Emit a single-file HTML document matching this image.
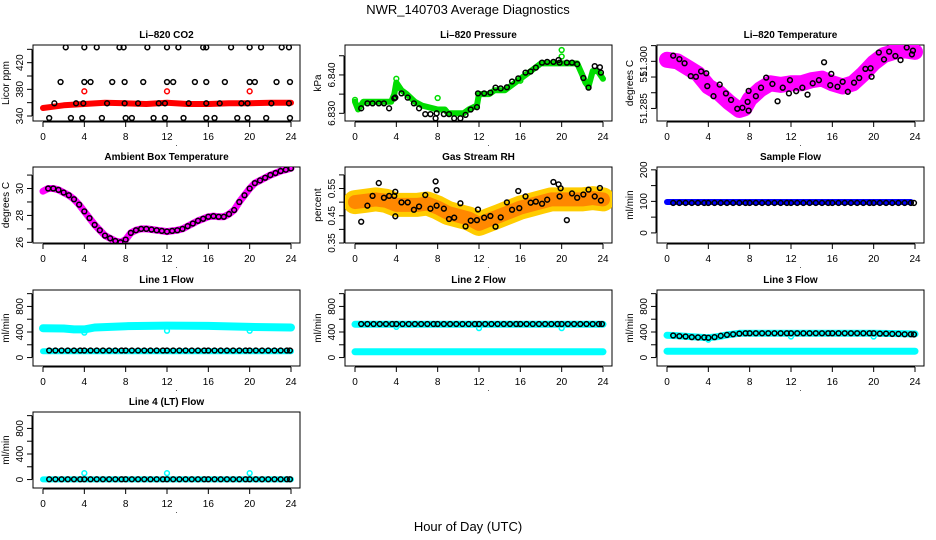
<!DOCTYPE html>
<html><head><meta charset="utf-8">
<style>
html,body{margin:0;padding:0;background:#fff;}
svg{display:block;font-family:"Liberation Sans",sans-serif;}
</style></head>
<body>
<svg id="chart" width="936" height="540" viewBox="0 0 936 540" xmlns="http://www.w3.org/2000/svg">
<text x="468" y="14" font-size="13" text-anchor="middle">NWR_140703  Average Diagnostics</text>
<text x="468" y="531" font-size="13" text-anchor="middle">Hour of Day (UTC)</text>
</svg>
<script>
// ---------- data ----------
const hourTicks = [0,4,8,12,16,20,24];
const flowTimes = [0.6,1.2,1.8,2.4,3.0,3.6,4.0,4.6,5.2,5.8,6.4,7.0,7.6,8.0,8.6,9.2,9.8,10.4,11.0,11.6,12.0,12.6,13.2,13.8,14.4,15.0,15.6,16.0,16.6,17.2,17.8,18.4,19.0,19.6,20.0,20.6,21.2,21.8,22.4,23.0,23.6,23.9];

// CO2
const co2BandT = [0,1,2,4,6,8,10,12,14,16,18,20,22,24];
const co2BandV = [352,354,356,358,360,359,358,360,358,358,359,359,360,360];
const co2RedT = [4,12,20];
const co2RedV = [377,377,377];
const co2BlackT = [2.2,4,5.2,7.4,7.8,10.1,12,13.1,15.5,15.8,18.2,20,21.1,23.1,23.8,
  1.7,4,4.6,6.7,7.9,9.7,12,12.6,14.7,15.8,17.6,20,20.5,22.6,23.9,
  0.6,2.7,3.8,5.7,8,8.6,10.7,11.8,13.6,15.8,16.6,18.8,19.8,21.6,23.9,
  1.1,3.2,3.9,6.2,7.9,9.2,11.2,11.8,14.1,15.8,17.1,19.2,19.8,22.1,23.8];
const co2BlackV = [443,443,443,443,443,443,443,443,443,443,443,443,443,443,443,
  391,391,391,391,391,391,391,391,391,391,391,391,391,391,391,
  337,337,337,337,337,337,337,337,337,337,337,337,337,337,337,
  359,359,359,359,359,359,359,359,359,359,359,359,359,359,359];

// Pressure
const presBandT = [0,0.3,0.8,3.5,3.8,4.0,4.5,5,5.8,6.5,8,8.7,9,10.5,11,11.8,12,13,13.5,14.5,15,16,17,17.5,18,21.5,22,22.3,22.6,23,23.5,24];
const presBandV = [6.833,6.831,6.833,6.833,6.835,6.838,6.836,6.835,6.833,6.832,6.831,6.831,6.830,6.830,6.831,6.832,6.835,6.835,6.836,6.836,6.837,6.839,6.841,6.842,6.843,6.843,6.840,6.838,6.837,6.841,6.841,6.839];
const presGreenT = [0,4,8,20,20,16];
const presGreenV = [6.8335,6.839,6.834,6.8465,6.8448,6.8385];
const presBlackT = [0.6,1.2,1.7,2.3,2.8,3.3,3.8,3.9,4.5,5.1,5.7,6.2,6.8,7.3,7.8,7.9,8.6,9.1,9.6,10.2,10.7,11.2,11.8,11.9,12.5,13.1,13.6,14.1,14.7,15.2,15.8,16.5,17.0,17.5,18.1,18.6,19.2,19.7,19.8,20.5,21.0,21.5,22.1,22.6,23.2,23.7,23.8];
const presBlackV = [6.8313,6.8326,6.8326,6.8326,6.8326,6.8313,6.8339,6.8341,6.8352,6.8341,6.8326,6.8313,6.8298,6.8298,6.8287,6.8300,6.8298,6.8298,6.8287,6.8287,6.8296,6.8310,6.8316,6.8352,6.8352,6.8354,6.8367,6.8365,6.8368,6.8383,6.8391,6.8406,6.8409,6.8419,6.8432,6.8434,6.8434,6.8439,6.8432,6.8432,6.8432,6.8428,6.8392,6.8367,6.8423,6.8420,6.8406];

// Li-820 temperature
const tempBandT = [0,1,2,3,4,5,6,7,7.5,8,9,10,11,12,13,14,15,16,17,18,19,20,21,22,23,24];
const tempBandV = [51.3005,51.3,51.298,51.296,51.292,51.290,51.287,51.2845,51.285,51.288,51.291,51.293,51.2925,51.293,51.293,51.294,51.2945,51.293,51.292,51.293,51.296,51.2995,51.302,51.303,51.3035,51.303];
const tempBlackT = [0.6,1.2,1.7,2.3,2.8,3.3,3.8,3.9,4.5,5.1,5.7,6.2,6.8,7.3,7.8,7.9,7.9,8.6,9.1,9.6,10.2,10.7,11.2,11.8,11.9,12.5,13.1,13.6,14.1,14.7,15.2,15.8,15.9,16.5,17.0,17.5,18.1,18.6,19.2,19.7,19.8,20.5,21.0,21.5,22.1,22.6,23.2,23.7,23.8];
const tempBlackV = [51.3018,51.3007,51.2994,51.2953,51.2951,51.2968,51.2962,51.2921,51.2889,51.2926,51.2898,51.2877,51.2849,51.2852,51.2871,51.2843,51.2906,51.2889,51.2916,51.2948,51.2928,51.2873,51.2916,51.2898,51.294,51.2905,51.2916,51.2894,51.293,51.294,51.2997,51.2924,51.296,51.2919,51.2935,51.2903,51.2932,51.2947,51.2976,51.2978,51.2951,51.3028,51.3006,51.3031,51.3017,51.3004,51.3044,51.3022,51.3034];

// Ambient box temperature
const ambT = [0,0.5,1,1.5,2,2.5,3,3.5,4,4.5,5,5.5,6,6.5,7,7.5,8,8.5,9,9.5,10,10.5,11,11.5,12,12.5,13,13.5,14,14.5,15,15.5,16,16.5,17,17.5,18,18.5,19,19.5,20,20.5,21,21.5,22,22.5,23,23.5,24];
const ambV = [29.8,30.0,30.0,29.9,29.7,29.5,29.2,28.8,28.3,27.8,27.3,26.9,26.5,26.3,26.1,26.0,26.2,26.7,26.9,27.0,27.0,26.95,26.9,26.85,26.8,26.85,26.9,27.0,27.2,27.4,27.6,27.75,27.9,27.95,27.9,27.9,28.1,28.4,29.0,29.5,30.0,30.4,30.6,30.8,31.0,31.15,31.3,31.4,31.5];

// Gas stream RH
const rhBandT = [0,1,2,3,4,5,6,7,8,9,10,11,12,13,14,15,16,17,18,19,20,21,22,23,24];
const rhBandV = [0.50,0.505,0.51,0.505,0.49,0.49,0.49,0.495,0.48,0.46,0.45,0.44,0.42,0.435,0.45,0.465,0.48,0.49,0.50,0.51,0.51,0.51,0.51,0.515,0.51];
const rhBlackT = [0.6,1.2,1.7,2.3,2.8,3.3,3.8,3.9,3.9,4.5,5.1,5.7,6.2,6.8,7.3,7.8,7.9,7.9,8.6,9.1,9.6,10.2,10.7,11.2,11.8,11.9,12.5,13.1,13.6,14.1,14.7,15.2,15.8,15.9,16.5,17.0,17.5,18.1,18.6,19.2,19.7,19.8,19.9,20.5,21.0,21.5,22.1,22.6,23.2,23.7,23.8];
const rhBlackV = [0.428,0.487,0.523,0.57,0.516,0.523,0.523,0.448,0.538,0.499,0.499,0.472,0.484,0.526,0.476,0.576,0.544,0.487,0.476,0.438,0.443,0.496,0.411,0.432,0.434,0.473,0.443,0.449,0.41,0.444,0.499,0.472,0.541,0.478,0.521,0.498,0.502,0.494,0.509,0.574,0.565,0.521,0.551,0.434,0.532,0.516,0.528,0.546,0.521,0.552,0.506];

// Sample flow
const sampleBandT = [0,23.6];
const sampleBandV = [98,98];
const sampleBlackV = [95,95,95,95,95,95,95,95,95,95,95,95,95,95,95,95,95,95,95,95,95,95,95,95,95,95,95,95,95,95,95,95,95,95,95,95,95,95,95,95,95,95];

// Line 1
const l1UpperT = [0,2,3,4,5,8,12,16,20,24];
const l1UpperV = [460,455,440,440,470,490,500,495,480,470];
const l1LowerT = [0,24];
const l1LowerV = [100,100];
const l1DipT = [4,12,20];
const l1DipV = [390,420,420];
const l1BlackV = [110,110,110,110,110,110,110,110,110,110,110,110,110,110,110,110,110,110,110,110,110,110,110,110,110,110,110,110,110,110,110,110,110,110,110,110,110,110,110,110,110,110];

// Line 2
const l2UpperT = [0,24];
const l2UpperV = [520,520];
const l2LowerT = [0,24];
const l2LowerV = [90,90];
const l2DipT = [4,12,20];
const l2DipV = [480,460,460];
const l2BlackV = [525,525,525,525,525,525,525,525,525,525,525,525,525,525,525,525,525,525,525,525,525,525,525,525,525,525,525,525,525,525,525,525,525,525,525,525,525,525,525,525,525,525];

// Line 3
const l3UpperT = [0,1,3,4,5,6,7,12,20,24];
const l3UpperV = [350,340,320,310,330,360,380,380,380,370];
const l3LowerT = [0,24];
const l3LowerV = [100,100];
const l3DipT = [4,12,20];
const l3DipV = [280,330,330];
const l3BlackV = [345,335,330,320,315,315,310,320,340,355,365,375,380,380,380,380,380,380,380,380,380,380,380,380,380,380,380,380,380,380,380,380,380,380,380,375,375,370,370,365,365,362];

// Line 4
const l4BandT = [0,24];
const l4BandV = [2,2];
const l4DipT = [4,12,20];
const l4DipV = [100,100,100];
const l4BlackV = [5,5,5,5,5,5,5,5,5,5,5,5,5,5,5,5,5,5,5,5,5,5,5,5,5,5,5,5,5,5,5,5,5,5,5,5,5,5,5,5,5,5];

// ---------- drawing ----------
const NS = "http://www.w3.org/2000/svg";
const svg = document.getElementById("chart");
const COLS = [{l:33,r:300},{l:345,r:612},{l:657,r:924}];
const ROWS = [45,167,290,412];
const H = 76;

function el(tag, attrs, parent){
  const e = document.createElementNS(NS, tag);
  for (const k in attrs) e.setAttribute(k, attrs[k]);
  (parent||svg).appendChild(e);
  return e;
}

function panel(key, col, row, ymin, ymax, yTicks, yLabels, title, ytitle){
  const c = COLS[col], top = ROWS[row], bot = top + H;
  const g = el("g", {});
  
  
  const x0 = c.l + 10, x24 = c.r - 9;
  const sx = h => x0 + (x24 - x0) * h / 24;
  const sy = v => bot - (v - ymin) / (ymax - ymin) * H;
  const box = el("rect", {x:c.l, y:top, width:c.r-c.l, height:H, fill:"none", stroke:"#000", "stroke-width":1}, g);
  
  
  const t = el("text", {x:(c.l+c.r)/2, y:top-7, "font-size":10, "font-weight":"bold", "text-anchor":"middle"}, g);
  t.textContent = title;
  
  
  // x axis
  const xa = el("g", {}, g);
  
  
  el("line", {x1:sx(0), x2:sx(24), y1:bot+1, y2:bot+1, stroke:"#000"}, xa);
  hourTicks.forEach(h => {
    el("line", {x1:sx(h), x2:sx(h), y1:bot+1, y2:bot+6, stroke:"#000"}, xa);
    const lt = el("text", {x:sx(h), y:bot+19, "font-size":10, "text-anchor":"middle"}, xa);
    lt.textContent = h;
    
    
  });
  const dot = el("text", {x:(c.l+c.r)/2+10, y:bot+25, "font-size":8, "text-anchor":"middle"}, xa);
  dot.textContent = ".";
  // y axis
  const ya = el("g", {}, g);
  
  
  el("line", {x1:c.l-1, x2:c.l-1, y1:sy(yTicks[0]), y2:sy(yTicks[yTicks.length-1]), stroke:"#000"}, ya);
  yTicks.forEach((v,i) => {
    const y = sy(v);
    el("line", {x1:c.l-6, x2:c.l-1, y1:y, y2:y, stroke:"#000"}, ya);
    if (yLabels[i] !== "") {
      const lt = el("text", {x:c.l-10, y:y, "font-size":10, "text-anchor":"middle", transform:`rotate(-90 ${c.l-10} ${y})`}, ya);
      lt.textContent = yLabels[i];
      
      
    }
  });
  const yt = el("text", {x:c.l-24, y:top+H/2, "font-size":10, "text-anchor":"middle", transform:`rotate(-90 ${c.l-24} ${top+H/2})`}, ya);
  yt.textContent = ytitle;
  
  
  const clipId = "clip-" + key;
  const cp = el("clipPath", {id:clipId}, g);
  el("rect", {x:c.l, y:top, width:c.r-c.l, height:H}, cp);
  const plot = el("g", {"clip-path":`url(#${clipId})`}, g);
  return {sx, sy, plot, key};
}

function band(p, T, V, color, w, name){
  const d = T.map((t,i) => (i ? "L" : "M") + p.sx(t).toFixed(1) + " " + p.sy(V[i]).toFixed(1)).join(" ");
  const path = el("path", {d:d, fill:"none", stroke:color, "stroke-width":w, "stroke-linejoin":"round", "stroke-linecap":"round"}, p.plot);
  
  
}
function circles(p, T, V, color, name, r, sw){
  const g = el("g", {}, p.plot);
  
  
  T.forEach((t,i) => {
    const c = el("circle", {cx:p.sx(t), cy:p.sy(V[i]), r:r||2.4, fill:"none", stroke:color, "stroke-width":sw||1.5}, g);
    
    
  });
}

// CO2
let p = panel("co2", 0, 0, 332.5, 446.5, [340,360,380,400,420,440], ["340","","380","","420",""], "Li\u2013820 CO2", "Licor ppm");
band(p, co2BandT, co2BandV, "#ff0000", 6, "co2-red-band");
circles(p, co2RedT, co2RedV, "#ff0000", "co2-red-points");
circles(p, co2BlackT, co2BlackV, "#000", "co2-black-points");

// Pressure
p = panel("pressure", 1, 0, 6.828, 6.8478, [6.830,6.835,6.840,6.845], ["6.830","","6.840",""], "Li\u2013820 Pressure", "kPa");
band(p, presBandT, presBandV, "#00dd00", 6, "pressure-green-band");
circles(p, presGreenT, presGreenV, "#00dd00", "pressure-green-points");
circles(p, presBlackT, presBlackV, "#000", "pressure-black-points");

// Li-820 Temperature
p = panel("li820-temp", 2, 0, 51.281, 51.3052, [51.285,51.290,51.295,51.300,51.305], ["51.285","","51","51.300",""], "Li\u2013820 Temperature", "degrees C");
band(p, tempBandT, tempBandV, "#ff00ff", 16, "li820-temp-magenta-band");
circles(p, tempBandT, tempBandV, "#ff00ff", "li820-temp-magenta-points", 3);
circles(p, tempBlackT, tempBlackV, "#000", "li820-temp-black-points");

// Ambient
p = panel("ambient", 0, 1, 25.95, 31.6, [26,27,28,29,30,31], ["26","","28","","30",""], "Ambient Box Temperature", "degrees C");
band(p, ambT, ambV, "#ff00ff", 7, "ambient-magenta-band");
circles(p, ambT.slice(1), ambV.slice(1), "#000", "ambient-black-points");

// RH
p = panel("rh", 1, 1, 0.35, 0.629, [0.35,0.40,0.45,0.50,0.55,0.60], ["0.35","","0.45","","0.55",""], "Gas Stream RH", "percent");
band(p, rhBandT, rhBandV, "#ffcc00", 24, "rh-yellow-band");
band(p, rhBandT, rhBandV, "#ff8800", 14, "rh-orange-band");
circles(p, rhBlackT, rhBlackV, "#000", "rh-black-points");

// Sample flow
p = panel("sample-flow", 2, 1, -32, 209, [0,50,100,150,200], ["0","","100","","200"], "Sample Flow", "ml/min");
band(p, sampleBandT, sampleBandV, "#0000ff", 6, "sample-flow-blue-band");
circles(p, flowTimes, sampleBlackV, "#000", "sample-flow-black-points");

const flowTicks = [0,200,400,600,800,1000];
const flowLabels = ["0","","400","","800",""];
// Line 1
p = panel("line1", 0, 2, -132, 1057, flowTicks, flowLabels, "Line 1 Flow", "ml/min");
band(p, l1UpperT, l1UpperV, "#00ffff", 8, "line1-cyan-upper-band");
band(p, l1LowerT, l1LowerV, "#00ffff", 6, "line1-cyan-lower-band");
circles(p, l1DipT, l1DipV, "#00ffff", "line1-cyan-points");
circles(p, flowTimes, l1BlackV, "#000", "line1-black-points");
// Line 2
p = panel("line2", 1, 2, -132, 1057, flowTicks, flowLabels, "Line 2 Flow", "ml/min");
band(p, l2UpperT, l2UpperV, "#00ffff", 7, "line2-cyan-upper-band");
band(p, l2LowerT, l2LowerV, "#00ffff", 7, "line2-cyan-lower-band");
circles(p, l2DipT, l2DipV, "#00ffff", "line2-cyan-points");
circles(p, flowTimes, l2BlackV, "#000", "line2-black-points");
// Line 3
p = panel("line3", 2, 2, -132, 1057, flowTicks, flowLabels, "Line 3 Flow", "ml/min");
band(p, l3UpperT, l3UpperV, "#00ffff", 7, "line3-cyan-upper-band");
band(p, l3LowerT, l3LowerV, "#00ffff", 7, "line3-cyan-lower-band");
circles(p, l3DipT, l3DipV, "#00ffff", "line3-cyan-points");
circles(p, flowTimes, l3BlackV, "#000", "line3-black-points");
// Line 4
p = panel("line4", 0, 3, -132, 1057, flowTicks, flowLabels, "Line 4 (LT) Flow", "ml/min");
band(p, l4BandT, l4BandV, "#00ffff", 6, "line4-cyan-band");
circles(p, l4DipT, l4DipV, "#00ffff", "line4-cyan-points");
circles(p, flowTimes, l4BlackV, "#000", "line4-black-points");
</script>
</body></html>
